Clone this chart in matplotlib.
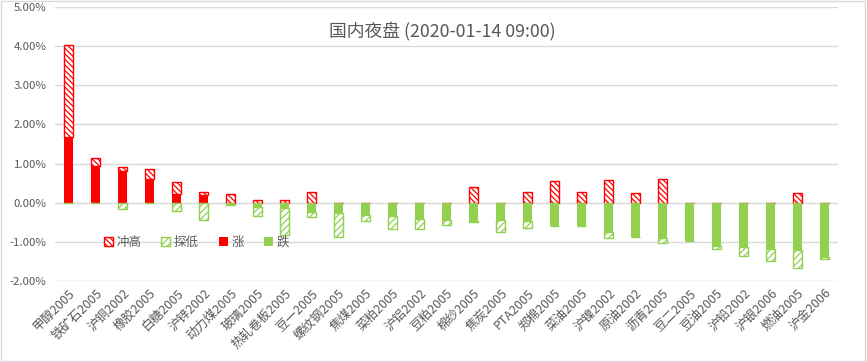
import matplotlib
matplotlib.use("Agg")
import matplotlib.pyplot as plt
from matplotlib.patches import Patch, Rectangle
from matplotlib.ticker import FuncFormatter
import numpy as np

plt.rcParams['font.family'] = ['Noto Sans CJK SC', 'DejaVu Sans']
plt.rcParams['hatch.linewidth'] = 0.9

# 国内夜盘 - 收盘/最高/最低涨跌幅 (%)
names = ["甲醇2005", "铁矿石2005", "沪铜2002", "橡胶2005", "白糖2005", "沪锌2002",
         "动力煤2005", "玻璃2005", "热轧卷板2005", "豆一2005", "螺纹钢2005", "焦煤2005",
         "菜粕2005", "沪铝2002", "豆粕2005", "棉纱2005", "焦炭2005", "PTA2005",
         "郑棉2005", "菜油2005", "沪镍2002", "原油2002", "沥青2005", "豆二2005",
         "豆油2005", "沪铅2002", "沪银2006", "燃油2005", "沪金2006"]
close = [1.67, 0.93, 0.80, 0.61, 0.23, 0.20, -0.03, -0.10, -0.13, -0.25, -0.27, -0.31,
         -0.33, -0.41, -0.43, -0.46, -0.45, -0.48, -0.60, -0.60, -0.76, -0.88, -0.91, -0.99,
         -1.11, -1.14, -1.19, -1.22, -1.39]
high = [4.02, 1.14, 0.91, 0.86, 0.53, 0.27, 0.22, 0.07, 0.07, 0.27, 0.0, 0.0,
        0.0, 0.0, 0.0, 0.40, 0.0, 0.27, 0.55, 0.27, 0.58, 0.25, 0.60, 0.0,
        0.0, 0.0, 0.0, 0.25, 0.0]
low = [0.0, 0.0, -0.17, 0.0, -0.20, -0.44, -0.05, -0.35, -0.82, -0.37, -0.88, -0.47,
       -0.68, -0.68, -0.58, -0.50, -0.76, -0.65, -0.60, -0.60, -0.91, -0.88, -1.04, -0.99,
       -1.18, -1.37, -1.50, -1.67, -1.44]

RED = "#FF0000"
GREEN = "#92D050"
HATCH_UP = "\\" * 6
HATCH_DN = "/" * 5

close = np.array(close)
high = np.array(high)
low = np.array(low)
x = np.arange(len(names))

rise = np.clip(close, 0, None)
fall = np.clip(close, None, 0)
up_ext = np.clip(high - rise, 0, None)
dn_ext = np.clip(low - fall, None, 0)

fig = plt.figure(figsize=(8.67, 3.62), dpi=100)
ax = fig.add_axes([0.0634, 0.2238, 0.9032, 0.7569])

w = 0.36
ax.bar(x, rise, w, color=RED, zorder=3)
ax.bar(x, up_ext, w, bottom=rise, facecolor="white", edgecolor=RED,
       hatch=HATCH_UP, linewidth=1, zorder=3)
ax.bar(x, fall, w, color=GREEN, zorder=3)
ax.bar(x, dn_ext, w, bottom=fall, facecolor="white", edgecolor=GREEN,
       hatch=HATCH_DN, linewidth=1, zorder=3)

ax.set_xlim(-0.5, len(names) - 0.5)
ax.set_ylim(-2, 5)
ax.set_yticks(np.arange(-2, 5.01, 1))
ax.yaxis.set_major_formatter(FuncFormatter(lambda v, p: f"{v:.2f}%"))
ax.grid(axis='y', color="#D9D9D9", linewidth=1, zorder=0)
for s in ax.spines.values():
    s.set_visible(False)
ax.tick_params(length=0, colors="#595959")
ax.tick_params(axis='y', labelsize=8.2, pad=6)
ax.set_xticks(x)
ax.set_xticklabels(names, rotation=45, ha='right', rotation_mode='anchor')
ax.tick_params(axis='x', pad=4, labelsize=9)

fig.text(0.51, 0.912, "国内夜盘 (2020-01-14 09:00)", ha='center', va='center',
         fontsize=12.8, color="#595959")

handles = [Patch(facecolor="white", edgecolor=RED, hatch=HATCH_UP, label="冲高"),
           Patch(facecolor="white", edgecolor=GREEN, hatch=HATCH_DN, label="探低"),
           Patch(facecolor=RED, label="涨"),
           Patch(facecolor=GREEN, label="跌")]
leg = ax.legend(handles=handles, ncol=4, loc='center left', bbox_to_anchor=(0.0626, 0.142),
                frameon=False, fontsize=9, handlelength=0.7, handleheight=0.7,
                handletextpad=0.3, columnspacing=1.6, borderpad=0, borderaxespad=0)
for t in leg.get_texts():
    t.set_color("#595959")

fig.patches.append(Rectangle((0.001, 0.002), 0.997, 0.995, transform=fig.transFigure,
                             fill=False, edgecolor="#D9D9D9", linewidth=1))

fig.savefig("out.png", dpi=100)
plt.close(fig)
print("Generated: out.png")
